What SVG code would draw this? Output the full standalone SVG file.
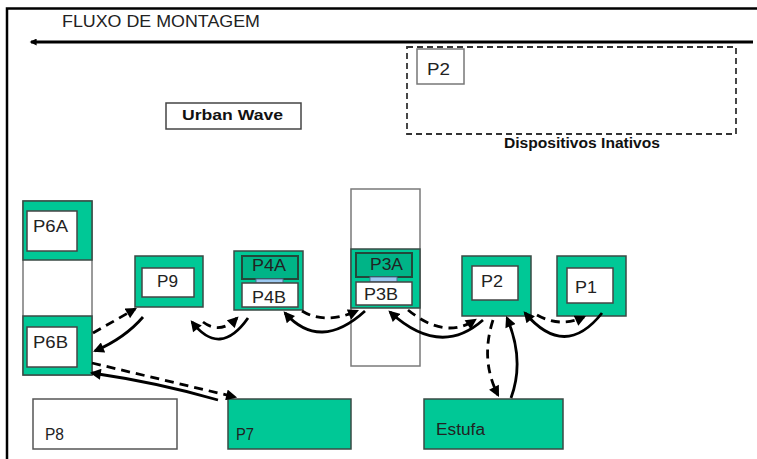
<svg xmlns="http://www.w3.org/2000/svg" width="757" height="459" viewBox="0 0 757 459">
<style>
  .lbl{font-family:"Liberation Sans",Arial,sans-serif;font-size:16px;fill:#222}
  .bold{font-family:"Liberation Sans",Arial,sans-serif;font-weight:bold;fill:#111}
  .green{fill:#00C896;stroke:#3a4a44;stroke-width:1.5}
  .dgreen{fill:#00B487;stroke:#24473a;stroke-width:2}
  .white{fill:#fff;stroke:#444;stroke-width:1.5}
  .col{fill:#fff;stroke:#7a7a7a;stroke-width:1.5}
  .blue{fill:#9cc8f0;stroke:#4a7090;stroke-width:1}
  .solid{fill:none;stroke:#000;stroke-width:2.8;marker-end:url(#ah)}
  .dash{fill:none;stroke:#000;stroke-width:2.8;stroke-dasharray:9 6;marker-end:url(#ah)}
</style>
<defs>
  <marker id="ah" viewBox="0 0 10 10" refX="8" refY="5" markerWidth="12" markerHeight="11" markerUnits="userSpaceOnUse" orient="auto">
    <path d="M0,0 L10,5 L0,10 z" fill="#000"/>
  </marker>
  <marker id="ah2" viewBox="0 0 10 10" refX="8" refY="5" markerWidth="8" markerHeight="7" markerUnits="userSpaceOnUse" orient="auto">
    <path d="M0,0 L10,5 L0,10 z" fill="#000"/>
  </marker>
</defs>
<rect width="757" height="459" fill="#fff"/>
<!-- frame -->
<path d="M7,459 L7,8.5 L757,8.5" fill="none" stroke="#000" stroke-width="2.5"/>

<g id="flow">
  <text class="lbl" x="62" y="27" font-size="16" fill="#333" textLength="198" lengthAdjust="spacingAndGlyphs">FLUXO DE MONTAGEM</text>
  <path d="M753,42 L31,42" stroke="#000" stroke-width="3" fill="none" marker-end="url(#ah2)"/>
</g>

<g id="urban-wave">
  <rect x="166" y="103" width="135" height="26" fill="#fff" stroke="#444" stroke-width="1.5"/>
  <text class="bold" x="182" y="120" font-size="15" textLength="101" lengthAdjust="spacingAndGlyphs">Urban Wave</text>
</g>

<g id="inativos">
  <rect x="407" y="47" width="329" height="87" fill="none" stroke="#333" stroke-width="1.8" stroke-dasharray="6 4"/>
  <rect x="417" y="49" width="47" height="35" fill="#fff" stroke="#777" stroke-width="1.5"/>
  <text class="lbl" x="427" y="75" font-size="17" textLength="23" lengthAdjust="spacingAndGlyphs">P2</text>
  <text class="bold" x="504" y="148" font-size="14" textLength="156" lengthAdjust="spacingAndGlyphs">Dispositivos Inativos</text>
</g>

<g id="P6">
  <rect class="col" x="23" y="201" width="69" height="174"/>
  <rect class="green" x="23" y="201" width="69" height="59"/>
  <rect class="white" x="27" y="211" width="50" height="40"/>
  <text class="lbl" x="33" y="232" font-size="17" textLength="35" lengthAdjust="spacingAndGlyphs">P6A</text>
  <rect class="green" x="23" y="316" width="69" height="59"/>
  <rect class="white" x="27" y="327" width="50" height="40"/>
  <text class="lbl" x="33" y="348" font-size="17" textLength="35" lengthAdjust="spacingAndGlyphs">P6B</text>
</g>

<g id="P9">
  <rect class="green" x="135" y="256" width="68" height="51"/>
  <rect class="white" x="142" y="268" width="52" height="29"/>
  <text class="lbl" x="157" y="287" textLength="21" lengthAdjust="spacingAndGlyphs">P9</text>
</g>

<g id="P4">
  <rect class="green" x="234" y="251" width="69" height="59"/>
  <rect class="dgreen" x="242" y="256" width="56" height="23"/>
  <text class="lbl" x="252" y="271" textLength="34" lengthAdjust="spacingAndGlyphs">P4A</text>
  <rect class="blue" x="256" y="279" width="27" height="4"/>
  <rect class="white" x="242" y="283" width="56" height="24"/>
  <text class="lbl" x="252" y="303" textLength="34" lengthAdjust="spacingAndGlyphs">P4B</text>
</g>

<g id="P3">
  <rect class="col" x="351" y="189" width="69" height="177"/>
  <rect class="green" x="351" y="249" width="69" height="59"/>
  <rect class="dgreen" x="356" y="253" width="56" height="24"/>
  <text class="lbl" x="370" y="270" textLength="33" lengthAdjust="spacingAndGlyphs">P3A</text>
  <rect class="blue" x="370" y="277" width="27" height="5"/>
  <rect class="white" x="356" y="282" width="56" height="23"/>
  <text class="lbl" x="364" y="300" textLength="34" lengthAdjust="spacingAndGlyphs">P3B</text>
</g>

<g id="P2">
  <rect class="green" x="462" y="256" width="69" height="60"/>
  <rect class="white" x="472" y="266" width="46" height="34"/>
  <text class="lbl" x="481" y="287" textLength="22" lengthAdjust="spacingAndGlyphs">P2</text>
</g>

<g id="P1">
  <rect class="green" x="557" y="256" width="69" height="60"/>
  <rect class="white" x="567" y="268" width="46" height="35"/>
  <text class="lbl" x="575" y="293" textLength="22" lengthAdjust="spacingAndGlyphs">P1</text>
</g>

<g id="P8">
  <rect x="33" y="399" width="144" height="50" fill="#fff" stroke="#555" stroke-width="1.5"/>
  <text class="lbl" x="45" y="440" font-size="17" textLength="19" lengthAdjust="spacingAndGlyphs">P8</text>
</g>

<g id="P7">
  <rect class="green" x="228" y="399" width="123" height="50"/>
  <text class="lbl" x="236" y="440" font-size="17" textLength="18" lengthAdjust="spacingAndGlyphs">P7</text>
</g>

<g id="Estufa">
  <rect class="green" x="424" y="399" width="139" height="50"/>
  <text class="lbl" x="436" y="435" font-size="17" textLength="49" lengthAdjust="spacingAndGlyphs">Estufa</text>
</g>

<g id="connectors">
  <path class="dash" d="M93,333 L135,309"/>
  <path class="solid" d="M143,317 Q125,338 95,351"/>
  <path class="solid" d="M248,318 Q220,358 192,322"/>
  <path class="dash" d="M203,322 Q220,335 237,318"/>
  <path class="solid" d="M365,311 Q320,352 285,313"/>
  <path class="dash" d="M302,311 Q325,325 357,311"/>
  <path class="solid" d="M483,320 Q440,358 390,312"/>
  <path class="dash" d="M408,310 Q445,340 475,320"/>
  <path class="dash" d="M493,320 Q480,360 498,395"/>
  <path class="solid" d="M511,398 Q525,360 507,318"/>
  <path class="solid" d="M602,313 Q565,360 525,313"/>
  <path class="dash" d="M537,315 Q560,328 584,317"/>
  <path class="dash" d="M92,363 L235,397"/>
  <path class="solid" d="M218,400 Q160,383 92,373"/>
</g>
</svg>
